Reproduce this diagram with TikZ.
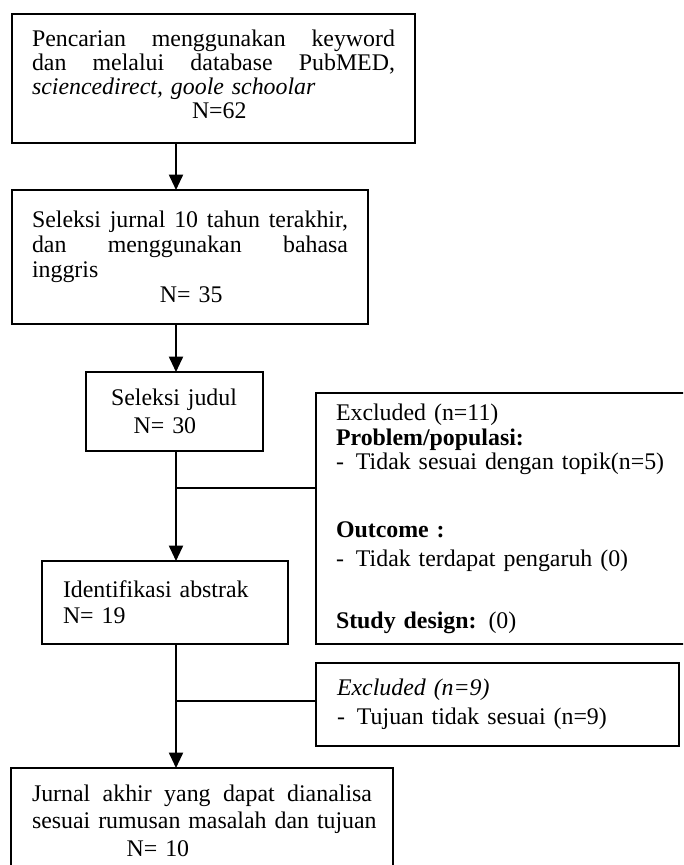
\documentclass[tikz,border=0pt]{standalone}
\usepackage{fontspec}
\setmainfont{Liberation Serif}
\usetikzlibrary{arrows.meta}
\tikzset{
  box/.style={draw, line width=1.4pt, anchor=north west, outer sep=0pt, inner ysep=0pt, align=left},
  flow/.style={line width=1.4pt, -{Triangle[length=11.5pt,width=10.5pt]}},
  link/.style={line width=0.9pt},
}
\newcommand{\fsz}[1]{\fontsize{17.9}{#1}\selectfont}
\newcommand{\jline}[2]{\leavevmode\hbox to #1{#2}}
\begin{document}
\begin{tikzpicture}[x=0.75pt,y=-0.75pt]
\useasboundingbox (0,0) rectangle (683,865);
\clip (0,0) rectangle (683,865);

\node[box, inner xsep=15pt, text width=272.25pt, minimum height=96.75pt, font=\fsz{18pt}] (b1) at (12,14)
  {\jline{272.25pt}{Pencarian\hfill menggunakan\hfill keyword}\\
   \jline{272.25pt}{dan\hfill melalui\hfill database\hfill PubMED,}\\
   \textit{sciencedirect, goole schoolar}\\
   \hspace*{120pt}N=62\\[-12pt]\mbox{}};

\node[box, inner xsep=15pt, text width=237pt, minimum height=100.5pt, font=\fsz{18.75pt}] (b2) at (12,190)
  {\jline{237pt}{Seleksi\hfill jurnal\hfill 10\hfill tahun\hfill terakhir,}\\
   \jline{237pt}{dan\hfill menggunakan\hfill bahasa}\\
   inggris\\
   \hspace*{96pt}N= 35};

\node[box, inner xsep=18.75pt, text width=95.25pt, minimum height=59.25pt, font=\fsz{21pt}] (b3) at (86,372)
  {Seleksi judul\\ \hspace*{17pt}N= 30};

\node[box, inner xsep=15.75pt, text width=153pt, minimum height=62.25pt, font=\fsz{19.5pt}] (b4) at (42,561)
  {Identifikasi abstrak\\ N= 19};

\node[box, inner xsep=15pt, text width=285pt, minimum height=188.25pt, font=\fsz{16pt}] (e1) at (316,393)
  {Excluded (n=11)\\[1.5pt]
   \textbf{Problem/populasi:}\\[1pt]
   -\hspace{9pt}Tidak sesuai dengan topik(n=5)\\[35pt]
   \textbf{Outcome :}\\[5.8pt]
   -\hspace{9pt}Tidak terdapat pengaruh (0)\\[29pt]
   \textbf{Study design:} (0)};

\node[box, inner xsep=15.75pt, text width=240.75pt, minimum height=62.25pt, font=\fsz{21.75pt}] (e2) at (316,663)
  {\textit{Excluded (n=9)}\\
   -\hspace{9pt}Tujuan tidak sesuai (n=9)};

\node[box, inner xsep=15.75pt, text width=255pt, minimum height=78.75pt, font=\fsz{20.6pt}] (b5) at (11,768)
  {\jline{255pt}{Jurnal\hfill akhir\hfill yang\hfill dapat\hfill dianalisa}\\
   \jline{255pt}{sesuai rumusan masalah dan tujuan\hfil}\\
   \hspace*{71pt}N= 10};

\coordinate (spine) at (176,0);
\coordinate (j1) at (176,488);
\coordinate (j2) at (176,701);

\draw[flow] (b1.south -| spine) -- (b2.north -| spine);
\draw[flow] (b2.south -| spine) -- (b3.north -| spine);
\draw[flow] (b3.south -| spine) -- (b4.north -| spine);
\draw[flow] (b4.south -| spine) -- (b5.north -| spine);
\draw[link] (j1) -- (j1 -| e1.west);
\draw[link] (j2) -- (j2 -| e2.west);
\end{tikzpicture}
\end{document}
